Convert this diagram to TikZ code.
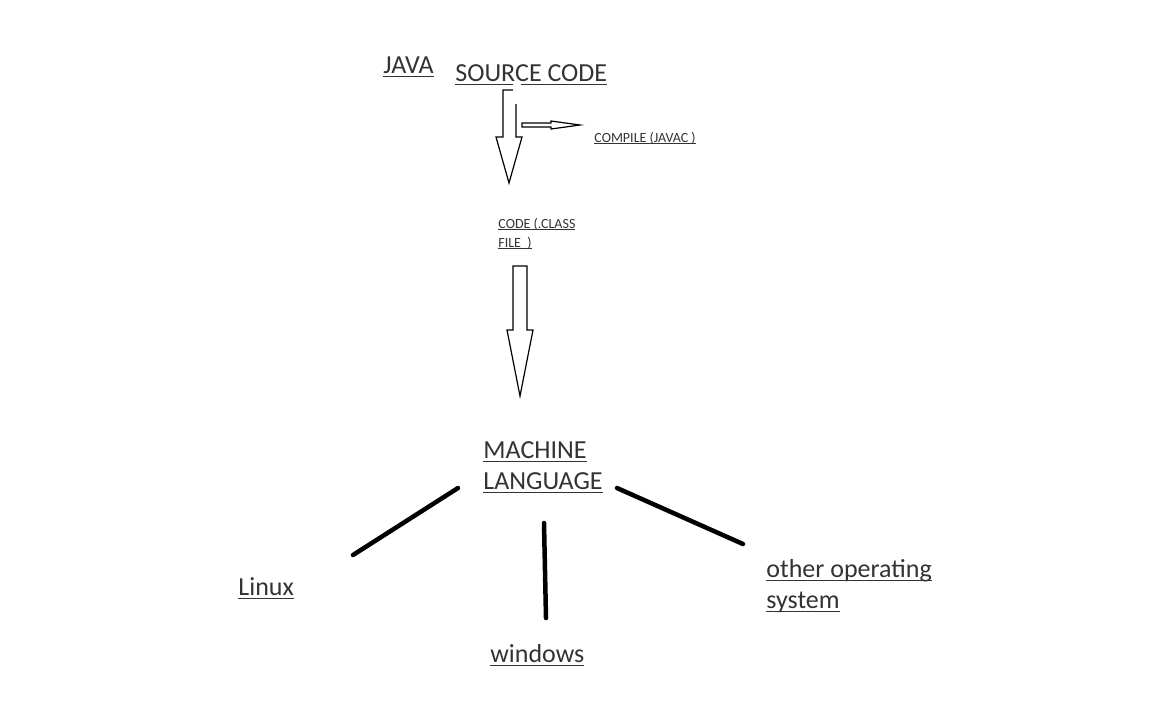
\documentclass[tikz,border=0pt]{standalone}
\usepackage{fontspec}
\setmainfont{Carlito}
\usepackage{xcolor}
\usepackage{tikz}
\usetikzlibrary{calc}

\definecolor{txtgray}{HTML}{333333}
\newcommand{\ulw}[1]{\setbox0\hbox{#1}\rlap{\color{txtgray}\vrule width\wd0 height-0.1em depth0.16em}\box0}

\begin{document}
\begin{tikzpicture}[x=0.5pt, y=-0.5pt,
		lbl/.style={anchor=base west, inner sep=0pt, text=txtgray, align=left, font=\fontsize{13}{15.5}\selectfont},
		small/.style={lbl, font=\fontsize{7}{9.5}\selectfont},
		blockarrow/.style={draw=black, line width=0.6pt, fill=white},
		branch/.style={draw=black, line width=2.25pt, line cap=round}]
					\useasboundingbox (0,0) rectangle (1152,720);

					\draw
						(383,73) node[lbl] (java) {\ulw{JAVA}}
						(455,81) node[lbl] (src) {\ulw{SOURCE CODE}}
						(594,142) node[small] (compile) {\ulw{COMPILE (JAVAC )}}
						(498,247) node[small] (class) {\ulw{CODE (.CLASS}\\\ulw{FILE\ \ )}}
						(483,489) node[lbl] (mach) {\ulw{MACHINE}\\\ulw{LANGUAGE}}
						(238,595) node[lbl] (linux) {\ulw{Linux}}
						(490,662) node[lbl] (win) {\ulw{windows}}
						(766,608) node[lbl] (other) {\ulw{other operating}\\\ulw{system}};

					% block arrows
					\draw[blockarrow]
						(503,90) -- (503,137) -- (496,137) -- (509,183) -- (522,137) -- (516,137) -- (516,90) -- cycle;
					\fill[white] (513,82) rectangle (521,104);
					\draw[blockarrow]
						(522,123) -- (551,123) -- (551,121) -- (580,125) -- (551,129) -- (551,127) -- (522,127) -- cycle;
					\draw[blockarrow]
						(513,266) -- (513,330) -- (507,330) -- (520,396) -- (533,330) -- (527,330) -- (527,266) -- cycle;

					\coordinate (linuxend) at (458,488);
					\coordinate (linuxtop) at (353,555);
					\coordinate (winend) at (544,523);
					\coordinate (wintop) at (546,618);
					\coordinate (otherend) at (617,488);
					\coordinate (othertop) at (743,544);

					\draw[branch]
						(linuxend) -- (linuxtop)
						(winend) -- (wintop)
						(otherend) -- (othertop);
				\end{tikzpicture}
\end{document}
